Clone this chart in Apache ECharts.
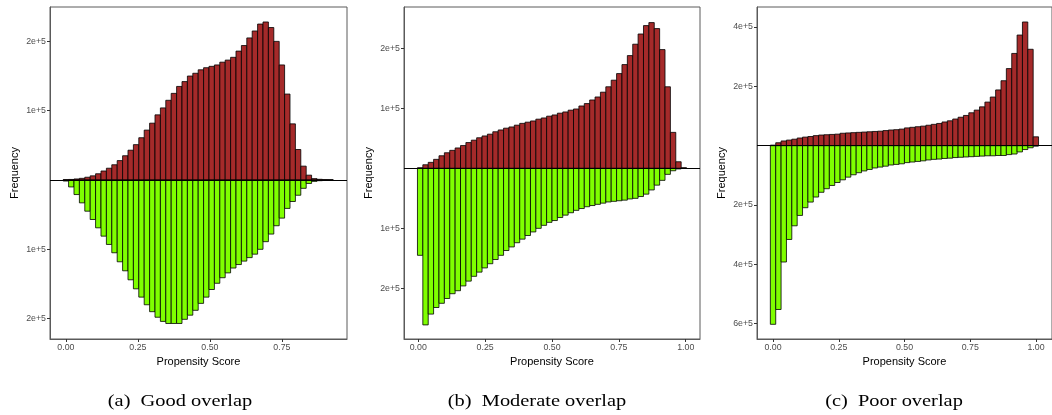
<!DOCTYPE html>
<html>
<head>
<meta charset="utf-8">
<script src="https://cdn.jsdelivr.net/npm/echarts@6/dist/echarts.min.js"></script>
<style>
html,body{margin:0;padding:0;background:#fff;}
#main{width:1052px;height:415px;}
</style>
</head>
<body>
<div id="main"></div>
<script>
// counts in thousands, 50 bins per panel (left to right)
var goodTreated = [0.5,0.8,1.5,2.4,4,6,9,13,17,22,28,35,43,51,61,72,82,94,104,115,125,135,142,150,154,159,162,164,166,170,173,177,186,194,205,215,225,228,220,200,166,124,81,44,20,7,2,1,0.5,0.3];
var goodControl = [1.5,10,21,33,45,57,69,81,93,105,118,131,144,157,169,180,190,198,204,207,207,207,201,195,188,178,169,158,149,141,134,127,122,117,112,107,100,89,78,66,55,41,31,22,12,5,2,1,0.5,0.3];
var modTreated = [1,6,10,15,21,26,30,34,38,43,47,51,54,57,61,64,67,69,72,75,77,79,82,84,87,89,92,94,97,99,104,108,114,119,127,136,147,158,173,188,207,224,238,243,233,198,136,60,11,1];
var modControl = [145,261,243,232,225,217,209,204,196,188,180,173,166,159,152,145,137,131,124,118,112,106,100,95,90,87,82,78,74,70,67,64,62,60,58,56,55,54,53,51,50,47,43,36,28,20,10,4,1,0];
var poorTreated = [2,10,16,19,22,26,29,31,34,36,37,38,39,42,43,44,45,46,47,48,49,51,53,54,56,60,62,64,66,69,72,75,80,84,90,96,102,111,120,131,147,164,188,219,260,311,373,417,325,30];
var poorControl = [602,552,392,316,270,235,209,190,173,157,145,134,124,115,106,98,91,85,80,75,72,69,65,63,61,57,55,53,51,48,46,45,43,42,40,39,38,37,36,35,34,34,33,33,30,28,21,13,7,1];

// histogram bin layout per panel
var binStart = [-0.0094, -0.003, -0.0102];
var binWidth = [0.01875, 0.02012, 0.0204];

var xTicks = [[0, 0.25, 0.5, 0.75], [0, 0.25, 0.5, 0.75, 1], [0, 0.25, 0.5, 0.75, 1]];
var yTicks = [[-2e5, -1e5, 1e5, 2e5], [-2e5, -1e5, 1e5, 2e5], [-6e5, -4e5, -2e5, 2e5, 4e5]];
var captions = ['(a)  Good overlap', '(b)  Moderate overlap', '(c)  Poor overlap'];

var RED = '#A52A2A';
var GREEN = '#7FFF00';
var BORDER = '#5a5a5a';

var grids = [
	{left: 50, top: 7, width: 297, height: 332},
	{left: 404, top: 7, width: 296, height: 332},
	{left: 757, top: 7, width: 298, height: 332}
];
var xRange = [[-0.0552, 0.976], [-0.0533, 1.0533], [-0.061, 1.061]];
var yRange = [[-229400, 249600], [-284500, 269000], [-651500, 467500]];

function toBins(counts, p, sign){
	var out = [];
	for(var i=0;i<counts.length;i++){
		var x0 = binStart[p] + i*binWidth[p];
		out.push([x0, x0 + binWidth[p], sign*counts[i]*1000]);
	}
	return out;
}

function renderBar(params, api){
	var p0 = api.coord([api.value(0), api.value(2)]);
	var p1 = api.coord([api.value(1), 0]);
	return {
		type: 'rect',
		shape: {
			x: p0[0],
			y: Math.min(p0[1], p1[1]),
			width: p1[0] - p0[0],
			height: Math.abs(p1[1] - p0[1])
		},
		style: {fill: api.visual('color'), stroke: '#000', lineWidth: 0.8}
	};
}

var panels = [[goodTreated, goodControl], [modTreated, modControl], [poorTreated, poorControl]];

var grid = [], xAxis = [], yAxis = [], series = [], graphic = [];
var captionX = [180, 537, 894];
for(var p=0;p<3;p++){
	grid.push({left: grids[p].left, top: grids[p].top, width: grids[p].width, height: grids[p].height,
		show: true, borderColor: BORDER, borderWidth: 1, backgroundColor: 'transparent'});
	xAxis.push({
		type: 'value', gridIndex: p, min: xRange[p][0], max: xRange[p][1],
		name: 'Propensity Score', nameLocation: 'middle', nameGap: 16,
		nameTextStyle: {color: '#000', fontSize: 11, fontFamily: 'Liberation Sans'},
		splitLine: {show: false},
		axisLine: {show: true, onZero: false, lineStyle: {color: BORDER, width: 1}},
		axisTick: {show: true, length: 3, customValues: xTicks[p], lineStyle: {color: '#333'}},
		axisLabel: {customValues: xTicks[p], margin: 4, color: '#4d4d4d', fontSize: 8.8, fontFamily: 'Liberation Sans',
			formatter: function(v){ return v.toFixed(2); }}
	});
	yAxis.push({
		type: 'value', gridIndex: p, min: yRange[p][0], max: yRange[p][1],
		name: 'Frequency', nameLocation: 'middle', nameGap: 30, nameRotate: 90,
		nameTextStyle: {color: '#000', fontSize: 11, fontFamily: 'Liberation Sans'},
		splitLine: {show: false},
		axisLine: {show: true, onZero: false, lineStyle: {color: BORDER, width: 1}},
		axisTick: {show: true, length: 3, customValues: yTicks[p], lineStyle: {color: '#333'}},
		axisLabel: {customValues: yTicks[p], margin: 4, color: '#4d4d4d', fontSize: 8.8, fontFamily: 'Liberation Sans',
			formatter: function(v){ return Math.round(Math.abs(v)/1e5) + 'e+5'; }}
	});
	series.push({
		type: 'custom', xAxisIndex: p, yAxisIndex: p, renderItem: renderBar,
		itemStyle: {color: RED}, encode: {x: [0, 1], y: 2},
		data: toBins(panels[p][0], p, 1), silent: true
	});
	series.push({
		type: 'custom', xAxisIndex: p, yAxisIndex: p, renderItem: renderBar,
		itemStyle: {color: GREEN}, encode: {x: [0, 1], y: 2},
		data: toBins(panels[p][1], p, -1), silent: true,
		markLine: {
			silent: true, symbol: 'none', label: {show: false},
			lineStyle: {color: '#000', width: 1, type: 'solid'},
			data: [{yAxis: 0}]
		}
	});
	// latex-style subcaption, slightly wide serif
	graphic.push({
		type: 'text', x: captionX[p], y: 402, scaleX: 1.2, silent: true,
		style: {text: captions[p], x: 0, y: 0, align: 'center', verticalAlign: 'middle',
			fontFamily: 'Liberation Serif', fontSize: 17, fill: '#000'}
	});
}

var chart = echarts.init(document.getElementById('main'), null, {renderer: 'canvas'});
chart.setOption({
	animation: false,
	grid: grid,
	xAxis: xAxis,
	yAxis: yAxis,
	series: series,
	graphic: graphic
});
</script>
</body>
</html>
